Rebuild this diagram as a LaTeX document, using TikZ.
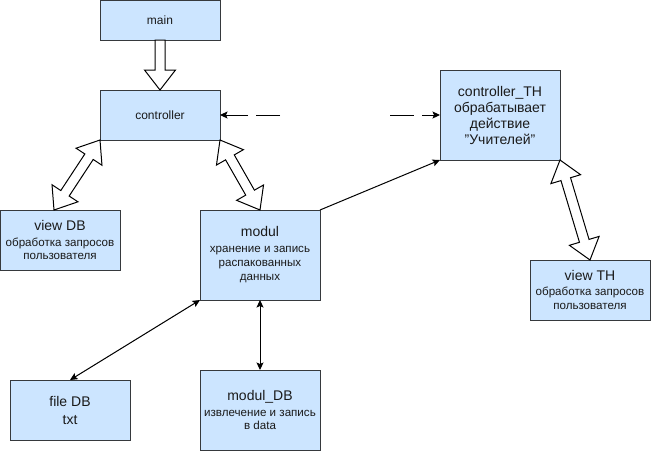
\documentclass[tikz,border=0pt]{standalone}
\usepackage{fontspec}
\setmainfont{Liberation Sans}
\usetikzlibrary{calc,arrows.meta}
\definecolor{boxfill}{HTML}{CCE5FF}
\definecolor{boxline}{HTML}{36393D}
\definecolor{txt}{HTML}{1A1A1A}
\newcommand\fsbig{\fontsize{14}{16}\selectfont}
\newcommand\fsmid{\fontsize{12}{14}\selectfont}
\newcommand\fssmall{\fontsize{11.6}{14}\selectfont}
\newcommand\hollowdbl[2]{%
  \path (#1) coordinate (hA) (#2) coordinate (hB);
  \path ($(hA)!20pt!(hB)$) coordinate (hh1) ($(hB)!20pt!(hA)$) coordinate (hh2);
  \draw[hollowarrow] (hA) -- ($(hh1)!15.5pt!90:(hB)$) -- ($(hh1)!5pt!90:(hB)$)
    -- ($(hh2)!5pt!-90:(hA)$) -- ($(hh2)!15.5pt!-90:(hA)$) -- (hB)
    -- ($(hh2)!15.5pt!90:(hA)$) -- ($(hh2)!5pt!90:(hA)$)
    -- ($(hh1)!5pt!-90:(hB)$) -- ($(hh1)!15.5pt!-90:(hB)$) -- cycle;
}
\newcommand\hollowsgl[2]{%
  \path (#1) coordinate (hA) (#2) coordinate (hB);
  \path ($(hB)!20pt!(hA)$) coordinate (hh2);
  \draw[hollowarrow] ($(hA)!5pt!90:(hB)$) -- ($(hh2)!5pt!-90:(hA)$)
    -- ($(hh2)!15.5pt!-90:(hA)$) -- (hB)
    -- ($(hh2)!15.5pt!90:(hA)$) -- ($(hh2)!5pt!90:(hA)$)
    -- ($(hA)!5pt!-90:(hB)$) -- cycle;
}
\begin{document}
\begin{tikzpicture}[x=1pt,y=-1pt,
  box/.style={draw=boxline,fill=boxfill,line width=1pt,inner sep=0pt,outer sep=0pt,
    align=center,text=txt,minimum width=120pt,font=\fsbig},
  mixbox/.style={box,font=\fssmall},
  hollowarrow/.style={draw=black,fill=white,line width=1pt,line join=miter},
  conn/.style={draw=black,line width=1pt,-{Stealth[length=7.5pt,width=7pt,inset=1.5pt]}},
  conn2/.style={draw=black,line width=1pt,{Stealth[length=7.5pt,width=7pt,inset=1.5pt]}-{Stealth[length=7.5pt,width=7pt,inset=1.5pt]}},
  dashconn/.style={conn,dash pattern=on 24pt off 8pt}]
\useasboundingbox (0,0) rectangle (651,451);
\node[box,minimum height=40pt,font=\fsmid] (main) at (160,20) {main};
\node[box,minimum height=50pt,font=\fsmid] (controller) at (160,115) {controller};
\node[mixbox,minimum height=60pt] (viewdb) at (60,240) {\fsbig view DB\\[2pt]обработка запросов\\[-0.5pt]пользователя};
\node[mixbox,minimum height=90pt] (modul) at (260,255) {\fsbig modul\\[2pt]хранение и запись\\распакованных\\данных};
\node[box,minimum height=60pt] (filedb) at (70,410) {file DB\\[2pt]txt};
\node[mixbox,minimum height=80pt] (moduldb) at (260,410) {\fsbig modul\_DB\\[2pt]извлечение и запись\\[-0.5pt]в data};
\node[box,minimum height=90pt] (cth) at (500,115) {controller\_TH\\обрабатывает\\действие\\\char34 Учителей\char34};
\node[mixbox,minimum height=60pt] (viewth) at (590,290) {\fsbig view TH\\[1pt]обработка запросов\\[-0.5pt]пользователя};
\hollowsgl{main.south}{controller.north}
\hollowdbl{controller.south west}{$(viewdb.north)+(-6,0)$}
\hollowdbl{controller.south east}{modul.north}
\hollowdbl{cth.south east}{viewth.north}
\draw[conn] (modul.north east) -- (cth.south west);
\draw[conn2] (modul.south west) -- (filedb.north);
\draw[conn2] (modul.south) -- (moduldb.north);
\coordinate (d1) at (280,115);
\coordinate (d2) at (390,115);
\draw[dashconn] (d1) -- (controller.east);
\draw[dashconn] (d2) -- (cth.west);
\end{tikzpicture}
\end{document}
